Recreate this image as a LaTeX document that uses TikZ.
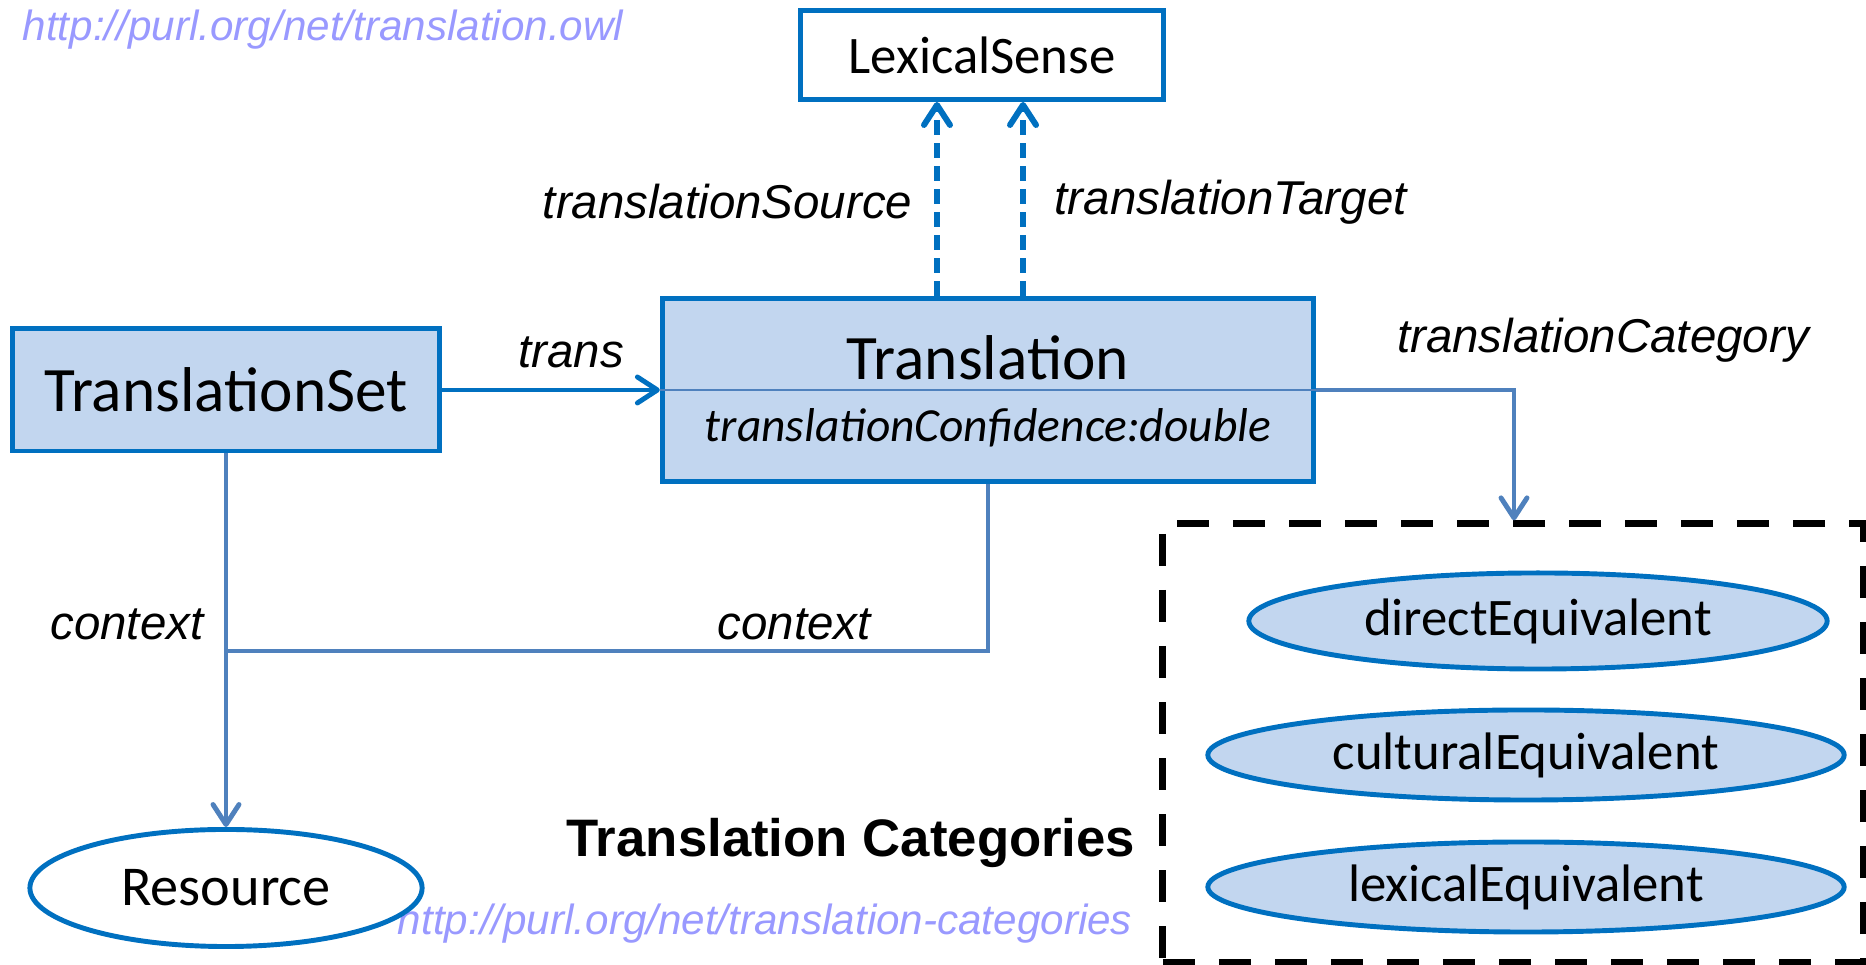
\documentclass[tikz,border=0pt]{standalone}
\usepackage{fontspec}
\setmainfont{Carlito}
\newfontfamily\arialfont{Liberation Sans}
\usepackage{tikz}
\usetikzlibrary{arrows.meta,shapes.geometric}
\usetikzlibrary{positioning}
\definecolor{owlblue}{HTML}{0070C0}
\definecolor{linkblue}{HTML}{4F81BD}
\definecolor{fillblue}{HTML}{C2D6EF}
\definecolor{urlviolet}{HTML}{9999FF}
\tikzstyle{class} = [rectangle, draw=owlblue, line width=1.4pt, fill=fillblue, text centered]
\tikzstyle{plainclass} = [rectangle, draw=owlblue, line width=1.4pt, fill=white, text centered]
\tikzstyle{inst} = [ellipse, draw=owlblue, line width=1.4pt, fill=fillblue, inner sep=0pt, font=\fontsize{15}{18}\selectfont]
\tikzstyle{prop} = [inner sep=0pt, font=\arialfont\itshape\fontsize{13.5}{16}\selectfont]
\tikzstyle{nsurl} = [inner sep=0pt, text=urlviolet, font=\arialfont\itshape\fontsize{12}{14}\selectfont]
\tikzstyle{link} = [draw=linkblue, line width=1.4pt]
\tikzstyle{arr} = [-{Straight Barb[length=2mm,width=2.6mm,round]}]
\tikzstyle{dasharrow} = [draw=owlblue, line width=1.7pt, dash pattern=on 0.15cm off 0.08cm, arr]
\tikzstyle{catframe} = [rectangle, draw=black, line width=2pt, dash pattern=on 0.32cm off 0.24cm]

\begin{document}
\begin{tikzpicture}[x=0.01cm, y=-0.01cm]
\useasboundingbox (0,0) rectangle (1866,965);

 % namespaces
 \node (owlns) [nsurl, anchor=west] at (22,30) {http://purl.org/net/translation.owl};
 \node (catns) [nsurl] at (765,924) {http://purl.org/net/translation-categories};

 % classes
 \node (lexsense) [plainclass, minimum width=3.63cm, minimum height=0.89cm, font=\fontsize{15}{18}\selectfont] at (982,55) {LexicalSense};
 \node (trans) [class, minimum width=6.51cm, minimum height=1.83cm] at (988,390) {};
 \draw[linkblue, line width=0.7pt] (trans.west) -- (trans.east);
 \node (transname) [font=\fontsize{18}{22}\selectfont] at (988,358) {Translation};
 \node (transattr) [font=\itshape\fontsize{13.5}{16}\selectfont] at (988,428) {translationConfidence:double};
 \node (tset) [class, minimum width=4.26cm, minimum height=1.22cm, font=\fontsize{18}{22}\selectfont] at (226,390) {TranslationSet};
 \node (resource) [ellipse, draw=owlblue, line width=1.4pt, fill=white, minimum width=3.92cm, minimum height=1.17cm, font=\fontsize{16}{19}\selectfont] at (226,888) {Resource};

 % translation categories
 \node (catbox) [catframe, minimum width=7cm, minimum height=4.38cm] at (1513,743) {};
 \node (direct) [inst, minimum width=5.78cm, minimum height=0.96cm] at (1538,621) {directEquivalent};
 \node (cultural) [inst, minimum width=6.36cm, minimum height=0.9cm] at (1526,755) {culturalEquivalent};
 \node (lexical) [inst, minimum width=6.36cm, minimum height=0.9cm] at (1526,887) {lexicalEquivalent};
 \node (cattitle) [font=\arialfont\bfseries\fontsize{15}{18}\selectfont] at (851,843) {Translation Categories};

 % properties
 \coordinate (srcend) at ([xshift=-0.45cm]lexsense.south);
 \coordinate (tgtend) at ([xshift=0.41cm]lexsense.south);
 \draw[dasharrow] (trans.north -| srcend) -- (srcend);
 \draw[dasharrow] (trans.north -| tgtend) -- (tgtend);
 \node (srclabel) [prop, anchor=east] at (913,202) {translationSource};
 \node (tgtlabel) [prop, anchor=west] at (1054,202) {translationTarget};

 \draw[link, draw=owlblue, arr] (tset.east) -- (trans.west);
 \node (translabel) [prop] at (571,352) {trans};

 \draw[link, arr] (trans.east) -| ([xshift=0.01cm]catbox.north);
 \node (catlabel) [prop] at (1603,340) {translationCategory};

 \coordinate (ctxjoin) at (226,651);
 \draw[link, arr] (tset.south) -- (resource.north);
 \draw[link] (trans.south) |- (ctxjoin);
 \node (ctxleft) [prop] at (127,624) {context};
 \node (ctxright) [prop] at (794,624) {context};
\end{tikzpicture}
\end{document}
